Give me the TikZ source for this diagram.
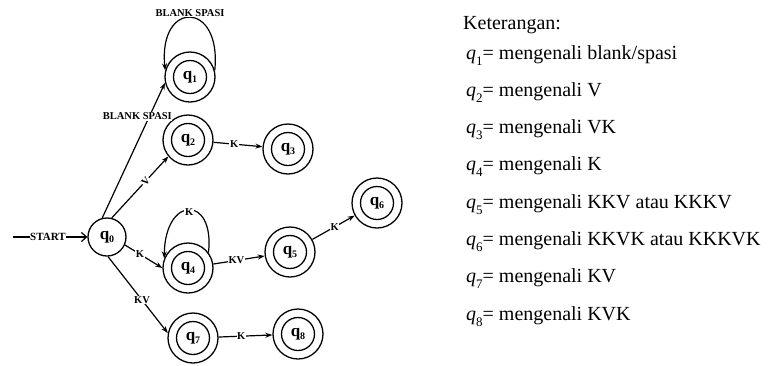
\documentclass[tikz,border=0pt]{standalone}
\usepackage{fontspec}
\setmainfont{Liberation Serif}
\usetikzlibrary{arrows.meta}

% state label: bold q with lowered index
\newcommand{\stq}[1]{q\raisebox{-0.35ex}{\fontsize{10}{10}\selectfont #1}}
% legend entry: italic q with lowered upright index
\newcommand{\legq}[1]{{\itshape q}\raisebox{-0.3em}{\fontsize{13}{13}\selectfont #1}}

\tikzset{
  st/.style={circle, draw, line width=1.3pt, minimum size=38pt, inner sep=0pt,
             font=\fontsize{17}{17}\selectfont\bfseries},
  acc/.style={st, minimum size=50pt,
              path picture={\draw[line width=1.3pt] (path picture bounding box.center) circle (16.5pt);}},
  tr/.style={line width=1.2pt, -{Stealth[length=7pt,width=5pt]}},
  lbl/.style={fill=white, inner sep=0.6pt, font=\fontsize{10.5}{10.5}\selectfont\bfseries},
  legend/.style={anchor=base west, inner sep=0pt, font=\fontsize{20}{20}\selectfont},
}

\begin{document}
\begin{tikzpicture}[x=1pt, y=-1pt]
\useasboundingbox (0,0) rectangle (777,365);

% states
\node[st]  (q0) at (107,237) {\stq{0}};
\node[acc] (q1) at (190,77)  {\stq{1}};
\node[acc] (q2) at (188,140) {\stq{2}};
\node[acc] (q3) at (288,149) {\stq{3}};
\node[acc] (q4) at (188,268) {\stq{4}};
\node[acc] (q5) at (290,252) {\stq{5}};
\node[acc] (q6) at (377,203) {\stq{6}};
\node[acc] (q7) at (193,338) {\stq{7}};
\node[acc] (q8) at (298,334) {\stq{8}};

% start arrow
\coordinate (s) at (13,237);
\draw[line width=1.2pt, -{Straight Barb[length=5pt,width=9pt]}] (s) -- node[lbl, pos=0.47, font=\fontsize{11}{11}\selectfont\bfseries]{START} (q0);

% transitions
\draw[tr] (q0.104) -- node[lbl, pos=0.75, xshift=-12pt]{BLANK SPASI} (q1.193);
\draw[tr] (q0.76) -- node[lbl, pos=0.6, sloped]{V} (q2.220);
\draw[tr] (q0.-24) -- node[lbl, pos=0.4]{K} (q4.180);
\draw[tr] (q0.-87) -- node[lbl, pos=0.57]{KV} (q7.169);
\draw[tr] (q2) -- node[lbl, pos=0.42]{K} (q3);
\draw[tr] (q4) -- node[lbl, pos=0.45]{KV} (q5);
\draw[tr] (q5) -- node[lbl, pos=0.53]{K} (q6);
\draw[tr] (q7) -- node[lbl, pos=0.42]{K} (q8);

% self loops
\draw[tr] (q1.15) .. controls (222,0) and (158,0) .. node[lbl, pos=0.5, yshift=5pt]{BLANK SPASI} (q1.165);
\draw[tr] (q4.37) .. controls (215,195) and (165,195) .. node[lbl, pos=0.5, yshift=-2pt]{K} (q4.158);

% legend
\node[legend] (k)  at (463,29)    {Keterangan:};
\node[legend] (l1) at (466,59)    {\legq{1}= mengenali blank/spasi};
\node[legend] (l2) at (466,96.3)  {\legq{2}= mengenali V};
\node[legend] (l3) at (466,133.6) {\legq{3}= mengenali VK};
\node[legend] (l4) at (466,170.9) {\legq{4}= mengenali K};
\node[legend] (l5) at (466,208.2) {\legq{5}= mengenali KKV atau KKKV};
\node[legend] (l6) at (466,245.5) {\legq{6}= mengenali KKVK atau KKKVK};
\node[legend] (l7) at (466,282.8) {\legq{7}= mengenali KV};
\node[legend] (l8) at (466,320.1) {\legq{8}= mengenali KVK};
\end{tikzpicture}
\end{document}
